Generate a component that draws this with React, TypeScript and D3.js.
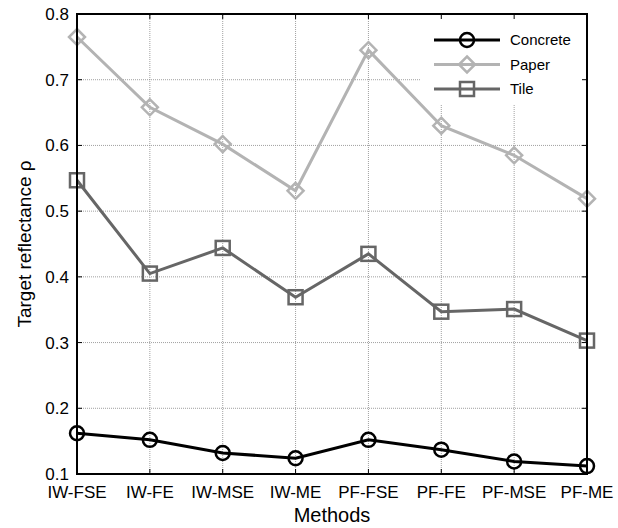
import * as d3 from 'd3';

const methods = ['IW-FSE', 'IW-FE', 'IW-MSE', 'IW-ME', 'PF-FSE', 'PF-FE', 'PF-MSE', 'PF-ME'];
const concrete = [0.162, 0.152, 0.132, 0.124, 0.152, 0.137, 0.119, 0.112];
const paper = [0.765, 0.658, 0.602, 0.531, 0.745, 0.630, 0.585, 0.519];
const tile = [0.547, 0.405, 0.444, 0.369, 0.435, 0.347, 0.351, 0.303];
const yTicks = [0.1, 0.2, 0.3, 0.4, 0.5, 0.6, 0.7, 0.8];

const W = 618, H = 528;
const M = { top: 14, right: 31, bottom: 54, left: 77 };
const FONT = '"Liberation Sans", Arial, sans-serif';

const series = [
  { name: 'Concrete', values: concrete, color: '#000000', marker: 'circle' },
  { name: 'Paper', values: paper, color: '#b3b3b3', marker: 'diamond' },
  { name: 'Tile', values: tile, color: '#666666', marker: 'square' },
];

function Marker({ type, x, y, color }: { type: string; x: number; y: number; color: string }) {
  const common = { fill: 'none', stroke: color, strokeWidth: 2.5 };
  if (type === 'circle') return <circle cx={x} cy={y} r={7} {...common} />;
  if (type === 'square') return <rect x={x - 7} y={y - 7} width={14} height={14} {...common} />;
  return <path d={`M${x},${y - 8}L${x + 8},${y}L${x},${y + 8}L${x - 8},${y}Z`} {...common} />;
}

export default function App() {
  const x = d3.scalePoint<string>().domain(methods).range([M.left, W - M.right]);
  const y = d3.scaleLinear().domain([0.1, 0.8]).range([H - M.bottom, M.top]);
  const line = d3.line<number>().x((_, i) => x(methods[i])!).y(d => y(d));
  const x0 = M.left, x1 = W - M.right, y0 = H - M.bottom, y1 = M.top;

  return (
    <svg width={W} height={H} style={{ position: 'absolute', left: 0, top: 0, background: '#fff' }} fontFamily={FONT}>
      <rect x={x0} y={y1} width={x1 - x0} height={y0 - y1} fill="#fff" />
      {/* grid */}
      {yTicks.slice(1, -1).map(t => (
        <line key={'gy' + t} x1={x0} x2={x1} y1={y(t)} y2={y(t)} stroke="#888" strokeWidth={0.8} strokeDasharray="1,1" />
      ))}
      {methods.slice(1, -1).map(m => (
        <line key={'gx' + m} x1={x(m)} x2={x(m)} y1={y0} y2={y1} stroke="#888" strokeWidth={0.8} strokeDasharray="1,1" />
      ))}
      {/* legend background */}
      <rect x={420} y={y1 + 1} width={x1 - 420 - 1} height={90} fill="#fff" />
      {/* series */}
      {series.map(s => (
        <g key={s.name}>
          <path d={line(s.values)!} fill="none" stroke={s.color} strokeWidth={3} />
          {s.values.map((v, i) => (
            <Marker key={i} type={s.marker} x={x(methods[i])!} y={y(v)} color={s.color} />
          ))}
        </g>
      ))}
      {/* axes box */}
      <rect x={x0} y={y1} width={x1 - x0} height={y0 - y1} fill="none" stroke="#000" strokeWidth={2} />
      {yTicks.map(t => (
        <g key={'ty' + t}>
          <line x1={x0} x2={x0 + 5} y1={y(t)} y2={y(t)} stroke="#000" />
          <line x1={x1} x2={x1 - 5} y1={y(t)} y2={y(t)} stroke="#000" />
          <text x={x0 - 8} y={y(t)} dy="0.35em" textAnchor="end" fontSize={17} fill="#000">{t.toFixed(1)}</text>
        </g>
      ))}
      {methods.map(m => (
        <g key={'tx' + m}>
          <line x1={x(m)} x2={x(m)} y1={y0} y2={y0 - 5} stroke="#000" />
          <line x1={x(m)} x2={x(m)} y1={y1} y2={y1 + 5} stroke="#000" />
          <text x={x(m)} y={y0 + 24} textAnchor="middle" fontSize={17} fill="#000">{m}</text>
        </g>
      ))}
      <text x={(x0 + x1) / 2} y={H - 6} textAnchor="middle" fontSize={20} fill="#000">Methods</text>
      <text transform={`translate(31,${(y0 + y1) / 2}) rotate(-90)`} textAnchor="middle" fontSize={19} fill="#000">Target reflectance ρ</text>
      {/* legend */}
      {series.map((s, i) => {
        const ly = 40 + i * 24.5;
        return (
          <g key={'lg' + s.name}>
            <line x1={434} x2={500} y1={ly} y2={ly} stroke={s.color} strokeWidth={3} />
            <Marker type={s.marker} x={467} y={ly} color={s.color} />
            <text x={510} y={ly} dy="0.35em" fontSize={15} fill="#000">{s.name}</text>
          </g>
        );
      })}
    </svg>
  );
}
